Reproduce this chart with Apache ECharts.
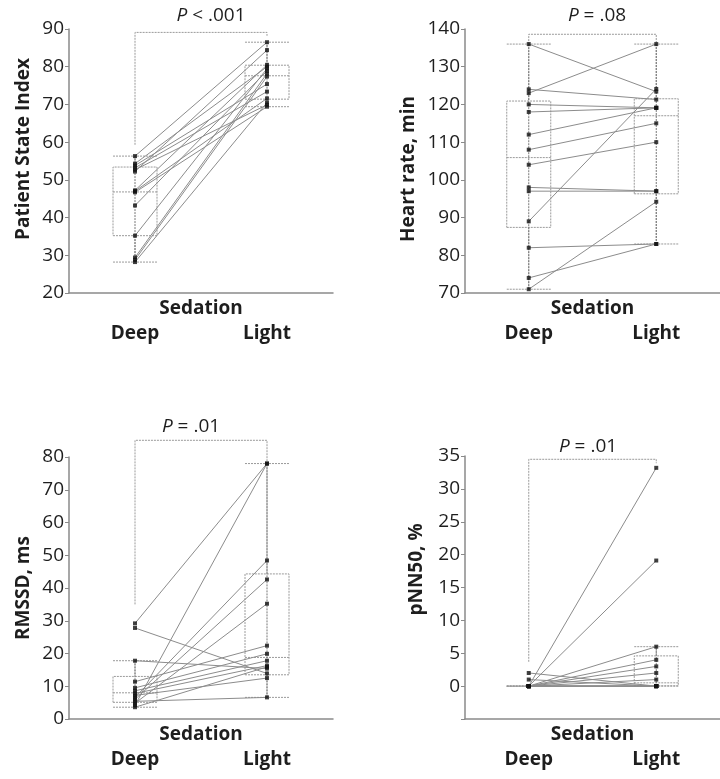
<!DOCTYPE html>
<html>
<head>
<meta charset="utf-8">
<script src="https://cdn.jsdelivr.net/npm/echarts@6/dist/echarts.min.js"></script>
<style>
html,body{margin:0;padding:0;background:#fff;}
#chart{width:720px;height:779px;}
</style>
</head>
<body>
<div id="chart"></div>
<script>
// ---------- data ----------
const groups = ['Deep', 'Light'];
const xTitle = 'Sedation';
const yTitles = ['Patient State Index', 'Heart rate, min', 'RMSSD, ms', 'pNN50, %'];
const pLabels = ['< .001', '= .08', '= .01', '= .01'];

// paired subject values (same index = same subject)
const psiDeep  = [56.3, 54.3, 53.8, 53.2, 52.7, 52.2, 47.2, 47.0, 46.7, 43.2, 35.2, 29.4, 28.8, 28.2];
const psiLight = [86.5, 80.0, 75.4, 73.4, 69.9, 84.4, 80.5, 71.6, 69.4, 78.9, 79.5, 78.2, 77.4, 70.5];

const hrDeep  = [136, 124, 123, 120, 118, 112, 108, 104, 98, 97, 89, 82, 74, 71];
const hrLight = [123.4, 121.3, 136, 119.1, 119.1, 119.1, 115, 110, 97, 97, 124.1, 83, 83, 94.2];

const rmssdDeep  = [29.2, 27.8, 17.8, 11.4, 9.5, 8.6, 7.8, 7.2, 6.6, 6.0, 5.4, 4.8, 4.2, 3.6];
const rmssdLight = [78.0, 13.9, 15.4, 22.4, 19.9, 17.8, 16.3, 12.5, 48.4, 42.6, 6.6, 35.2, 78.0, 15.9];

const pnnDeep  = [2, 1, 0, 0, 0, 0, 0, 0, 0, 0, 0, 0, 0, 0];
const pnnLight = [0, 0, 33.2, 19.1, 6, 4, 3, 2, 1, 0, 0, 0, 0, 0];

// box stats [min, Q1, median, Q3, max] for Deep and Light
const psiBox   = [[28.2, 35.2, 46.8, 53.4, 56.3], [69.4, 71.4, 77.6, 80.4, 86.5]];
const hrBox    = [[71, 87.4, 105.9, 120.9, 136], [83, 96.3, 117, 121.5, 136]];
const rmssdBox = [[3.6, 5.1, 8.0, 13.0, 17.8], [6.6, 13.5, 18.8, 44.3, 78.0]];
const pnnBox   = [[0, 0, 0, 0, 0], [0, 0.05, 0.5, 4.6, 6]];

// comparison brackets: [left leg bottom, top, right leg bottom]
const psiBracket   = [59.3, 89.1, 88.2];
const hrBracket    = [136, 138.6, 136];
const rmssdBracket = [35.0, 85.1, 78.0];
const pnnBracket   = [3.7, 34.5, 33.9];

// axis scales
const yMins = [20, 70, 0, -5];
const yMaxs = [90, 140, 80, 35];
const yIntervals = [10, 10, 10, 5];

// ---------- layout / style ----------
const FONT = 'Open Sans';
const TXT = '#1e1e1e';
const AX = '#8a8a8a';
const grids = [
  {left: 69, top: 29, width: 264, height: 264},
  {left: 465, top: 29, width: 265, height: 264},
  {left: 69, top: 457, width: 264, height: 262},
  {left: 465, top: 456, width: 264, height: 263}
];
const nameGaps = [36, 47, 36, 39];
const namePads = [[0, 0, 0, 24], [0, 16, 0, 0], [0, 0, 0, 0], [0, 0, 0, 36]];
const pPos = [{x: 211, y: 6}, {x: 597, y: 6}, {x: 191, y: 417}, {x: 588, y: 437}];

const panels = [
  {deep: psiDeep, light: psiLight, box: psiBox, br: psiBracket},
  {deep: hrDeep, light: hrLight, box: hrBox, br: hrBracket},
  {deep: rmssdDeep, light: rmssdLight, box: rmssdBox, br: rmssdBracket},
  {deep: pnnDeep, light: pnnLight, box: pnnBox, br: pnnBracket}
];

const option = {
  animation: false,
  backgroundColor: '#fff',
  title: [],
  grid: grids.map(g => Object.assign({containLabel: false}, g)),
  xAxis: [],
  yAxis: [],
  series: []
};

panels.forEach((p, i) => {
  option.xAxis.push({
    gridIndex: i,
    type: 'category',
    data: groups,
    boundaryGap: true,
    axisLine: {show: true, onZero: false, lineStyle: {color: AX, width: 1.5}},
    axisTick: {show: false},
    axisLabel: {fontFamily: FONT, fontSize: 19, fontWeight: 'bold', color: TXT, margin: 31},
    name: xTitle,
    nameLocation: 'middle',
    nameGap: 6,
    nameMoveOverlap: false,
    nameTextStyle: {fontFamily: FONT, fontSize: 19, fontWeight: 'bold', color: TXT},
    splitLine: {show: false}
  });
  option.yAxis.push({
    gridIndex: i,
    type: 'value',
    min: yMins[i],
    max: yMaxs[i],
    interval: yIntervals[i],
    axisLine: {show: true, onZero: false, lineStyle: {color: AX, width: 1.5}},
    axisTick: {show: true, length: 4, lineStyle: {color: AX, width: 1}},
    axisLabel: {
      fontFamily: FONT, fontSize: 19, color: TXT, margin: 5,
      formatter: v => (v < 0 ? '' : String(v))
    },
    splitLine: {show: false},
    name: yTitles[i],
    nameLocation: 'middle',
    nameGap: nameGaps[i],
    nameMoveOverlap: false,
    nameRotate: 90,
    nameTextStyle: {fontFamily: FONT, fontSize: 19, fontWeight: 'bold', color: TXT, padding: namePads[i]}
  });
  option.title.push({
    text: '{i|P} ' + pLabels[i],
    left: pPos[i].x,
    top: pPos[i].y,
    textAlign: 'center',
    padding: 0,
    textStyle: {
      fontFamily: FONT, fontSize: 19, fontWeight: 'normal', color: TXT,
      rich: {i: {fontFamily: FONT, fontSize: 19, fontStyle: 'italic', color: TXT}}
    }
  });
  // boxes
  option.series.push({
    type: 'boxplot',
    xAxisIndex: i, yAxisIndex: i,
    data: p.box,
    boxWidth: [44, 44],
    silent: true,
    z: 1,
    itemStyle: {color: 'rgba(0,0,0,0)', borderColor: '#9a9a9a', borderWidth: 1, borderType: [2, 1]}
  });
  // vertical range lines through each column
  p.box.forEach((b, g) => {
    option.series.push({
      type: 'line', xAxisIndex: i, yAxisIndex: i,
      data: [[g, b[0]], [g, b[4]]],
      symbol: 'none', silent: true, z: 2,
      lineStyle: {color: '#777', width: 1, type: [2, 1]}
    });
  });
  // subject lines
  p.deep.forEach((d, k) => {
    option.series.push({
      type: 'line', xAxisIndex: i, yAxisIndex: i,
      data: [[0, d], [1, p.light[k]]],
      symbol: 'none', silent: true, z: 3,
      lineStyle: {color: '#8c8c8c', width: 1}
    });
  });
  // bracket
  option.series.push({
    type: 'line', xAxisIndex: i, yAxisIndex: i,
    data: [[0, p.br[0]], [0, p.br[1]], [1, p.br[1]], [1, p.br[2]]],
    symbol: 'none', silent: true, clip: false, z: 2,
    lineStyle: {color: '#9a9a9a', width: 1, type: [2, 1]}
  });
  // points
  option.series.push({
    type: 'scatter', xAxisIndex: i, yAxisIndex: i,
    data: p.deep.map(v => [0, v]).concat(p.light.map(v => [1, v])),
    symbol: 'rect', symbolSize: [4, 4], silent: true, z: 5,
    itemStyle: {color: '#111'}
  });
});

const chart = echarts.init(document.getElementById('chart'), null, {renderer: 'canvas'});
chart.setOption(option);
</script>
</body>
</html>
